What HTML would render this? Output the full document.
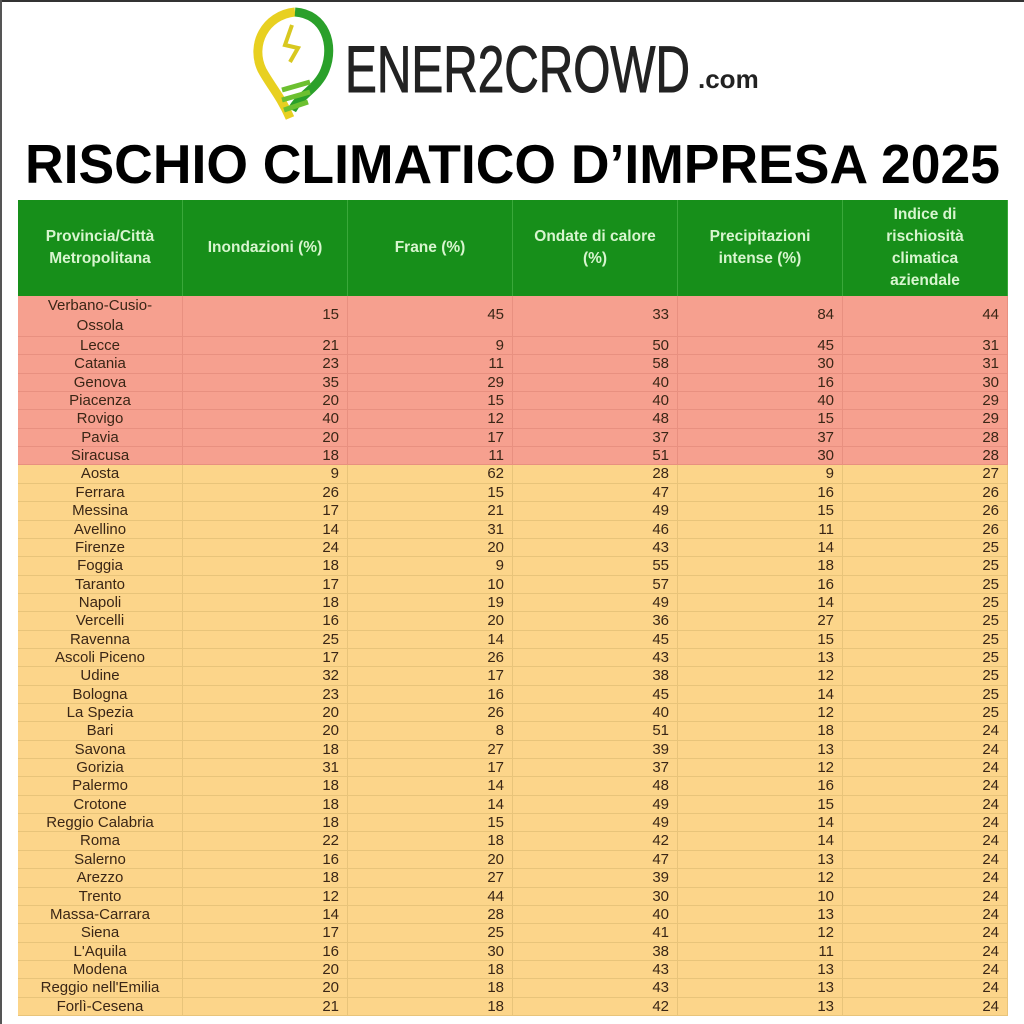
<!DOCTYPE html><html><head><meta charset="utf-8"><style>
body{margin:0;width:1024px;height:1024px;background:#fff;position:relative;overflow:hidden;font-family:"Liberation Sans",sans-serif}
.c{position:absolute;box-sizing:border-box;font-size:15px;color:#3a2616;line-height:18px;white-space:nowrap}
</style></head><body>
<div style="position:absolute;left:0;top:0;width:1024px;height:2px;background:#333"></div>
<div style="position:absolute;left:0;top:0;width:2px;height:1024px;background:#555"></div>
<svg width="1024" height="200" style="position:absolute;left:0;top:0">
<path d="M290 118 C280 95 270 85 262 70 C250 45 265 15 295 12" fill="none" stroke="#e8d020" stroke-width="9"/>
<path d="M295 12 C325 14 335 45 325 70 C318 88 300 95 292 110" fill="none" stroke="#2aa02a" stroke-width="9"/>
<path d="M282 90 L310 82 M282 100 L310 92 M284 110 L308 102" stroke="#6cc030" stroke-width="5"/>
<path d="M292 25 L285 45 L298 48 L290 62" fill="none" stroke="#d8c820" stroke-width="4"/>
<text x="345" y="92" font-family="Liberation Sans Narrow,Liberation Sans,sans-serif" font-size="66" fill="#222" stroke="#222" stroke-width="1" textLength="345" lengthAdjust="spacingAndGlyphs">ENER2CROWD</text>
<text x="698" y="88" font-family="Liberation Sans,sans-serif" font-size="26" fill="#222" font-weight="bold">.com</text>
<text x="25" y="183" font-family="Liberation Sans,sans-serif" font-weight="bold" font-size="55" fill="#000" textLength="975" lengthAdjust="spacingAndGlyphs">RISCHIO CLIMATICO D’IMPRESA 2025</text>
</svg>
<div id="t"></div>
<script>
var X=[18,183,348,513,678,843,1008];
var H=["Provincia/Città<br>Metropolitana","Inondazioni (%)","Frane (%)","Ondate di calore<br>(%)","Precipitazioni<br>intense (%)","Indice di<br>rischiosità<br>climatica<br>aziendale"];
var D=`Verbano-Cusio-Ossola 15 45 33 84 44
Lecce 21 9 50 45 31
Catania 23 11 58 30 31
Genova 35 29 40 16 30
Piacenza 20 15 40 40 29
Rovigo 40 12 48 15 29
Pavia 20 17 37 37 28
Siracusa 18 11 51 30 28
Aosta 9 62 28 9 27
Ferrara 26 15 47 16 26
Messina 17 21 49 15 26
Avellino 14 31 46 11 26
Firenze 24 20 43 14 25
Foggia 18 9 55 18 25
Taranto 17 10 57 16 25
Napoli 18 19 49 14 25
Vercelli 16 20 36 27 25
Ravenna 25 14 45 15 25
Ascoli_Piceno 17 26 43 13 25
Udine 32 17 38 12 25
Bologna 23 16 45 14 25
La_Spezia 20 26 40 12 25
Bari 20 8 51 18 24
Savona 18 27 39 13 24
Gorizia 31 17 37 12 24
Palermo 18 14 48 16 24
Crotone 18 14 49 15 24
Reggio_Calabria 18 15 49 14 24
Roma 22 18 42 14 24
Salerno 16 20 47 13 24
Arezzo 18 27 39 12 24
Trento 12 44 30 10 24
Massa-Carrara 14 28 40 13 24
Siena 17 25 41 12 24
L'Aquila 16 30 38 11 24
Modena 20 18 43 13 24
Reggio_nell'Emilia 20 18 43 13 24
Forlì-Cesena 21 18 42 13 24`.split("\n");
var h="";
for(var j=0;j<6;j++)h+=`<div class="c" style="left:${X[j]}px;top:200px;width:${X[j+1]-X[j]}px;height:96px;background:#178f1a;border-right:1px solid #3aa83a;color:#d8f5cf;font-weight:bold;font-size:15.5px;line-height:22px;display:flex;align-items:center;justify-content:center;text-align:center">${H[j]}</div>`;
var y=296,rh=18.35;
D.forEach(function(r,i){var p=r.split(" ");var hh=i==0?41:rh;var bg=i<8?"#f6a08f":"#fcd58a";
var t0=Math.round(y),t1=Math.round(y+hh);
for(var j=0;j<6;j++){var t=p[j].replace(/_/g," ");if(i==0&&j==0)t="Verbano-Cusio-<br>Ossola";
var st=`left:${X[j]}px;top:${t0}px;width:${X[j+1]-X[j]}px;height:${t1-t0}px;background:${bg};border-right:1px solid ${i<8?"#e89080":"#e8c47a"};border-bottom:1px solid ${i<8?"#e89080":"#e8c47a"};`;
if(j==0)st+="text-align:center;"+(i==0?"line-height:20px;":"");else st+="text-align:right;padding-right:8px;"+(i==0?"padding-top:10px;":"");
h+=`<div class="c" style="${st}">${t}</div>`;}
y+=hh;});
document.getElementById("t").innerHTML=h;
</script>
</body></html>
